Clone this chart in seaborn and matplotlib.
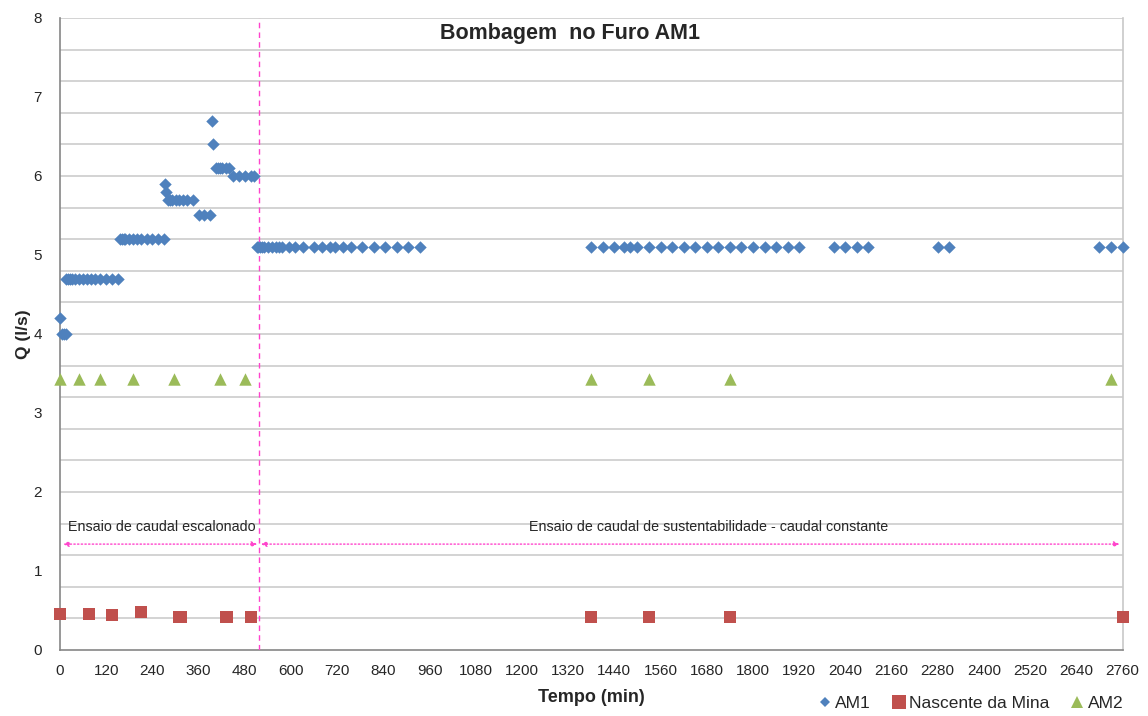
import pandas as pd
import matplotlib
matplotlib.use("Agg")
import matplotlib.pyplot as plt
from matplotlib.ticker import MultipleLocator
from matplotlib.lines import Line2D
import seaborn as sns

# AM1 pumping well flow (l/s) vs time (min)
am1_t = [0, 5, 10, 15,
         15, 20, 25, 30, 40, 50, 60, 70, 80, 90, 105, 120, 135, 150,
         155, 160, 165, 170, 180, 190, 200, 210, 225, 240, 255, 270,
         272, 275,
         280, 285, 290, 300, 310, 320, 330, 345,
         360, 375, 390,
         395, 398,
         405, 410, 415, 420, 430, 440,
         450, 465, 480, 495, 505,
         512, 515, 520, 525, 530, 540, 550, 560, 570, 577,
         595, 610, 630, 660, 680, 700, 715, 735,
         755, 785, 815, 845, 875, 905, 935,
         1380, 1410, 1440, 1465, 1480, 1500, 1530, 1560, 1590, 1620,
         1650, 1680, 1710, 1740, 1770, 1800, 1830, 1860, 1890, 1920,
         2010, 2040, 2070, 2100, 2280, 2310, 2700, 2730, 2760]
am1_q = [4.2, 4.0, 4.0, 4.0,
         4.7, 4.7, 4.7, 4.7, 4.7, 4.7, 4.7, 4.7, 4.7, 4.7, 4.7, 4.7, 4.7, 4.7,
         5.2, 5.2, 5.2, 5.2, 5.2, 5.2, 5.2, 5.2, 5.2, 5.2, 5.2, 5.2,
         5.9, 5.8,
         5.7, 5.7, 5.7, 5.7, 5.7, 5.7, 5.7, 5.7,
         5.5, 5.5, 5.5,
         6.7, 6.4,
         6.1, 6.1, 6.1, 6.1, 6.1, 6.1,
         6.0, 6.0, 6.0, 6.0, 6.0,
         5.1, 5.1, 5.1, 5.1, 5.1, 5.1, 5.1, 5.1, 5.1, 5.1,
         5.1, 5.1, 5.1, 5.1, 5.1, 5.1, 5.1, 5.1,
         5.1, 5.1, 5.1, 5.1, 5.1, 5.1, 5.1,
         5.1, 5.1, 5.1, 5.1, 5.1, 5.1, 5.1, 5.1, 5.1, 5.1,
         5.1, 5.1, 5.1, 5.1, 5.1, 5.1, 5.1, 5.1, 5.1, 5.1,
         5.1, 5.1, 5.1, 5.1, 5.1, 5.1, 5.1, 5.1, 5.1]

# Nascente da Mina
nasc_t = [0, 75, 135, 210, 310, 315, 430, 435, 495, 1380, 1530, 1740, 2760]
nasc_q = [0.46, 0.46, 0.44, 0.48, 0.42, 0.42, 0.42, 0.42, 0.42, 0.42, 0.42, 0.42, 0.42]

# AM2
am2_t = [0, 50, 105, 190, 295, 415, 480, 1380, 1530, 1740, 2730]
am2_q = [3.43] * 11

x_ticks = list(range(0, 2761, 120))
change_t = 517

c_am1 = "#4F81BD"
c_nasc = "#C0504D"
c_am2 = "#9BBB59"
c_pink = "#FF44CC"

sns.set_style("white")
plt.rcParams["font.family"] = ["Liberation Sans", "DejaVu Sans"]

fig = plt.figure(figsize=(11.48, 7.16), dpi=100)
ax = fig.add_axes([0.0523, 0.0922, 0.9255, 0.8828])

sns.scatterplot(x=am1_t, y=am1_q, marker="D", s=40, color=c_am1, linewidth=0, ax=ax,
                zorder=4, clip_on=False)
sns.scatterplot(x=nasc_t, y=nasc_q, marker="s", s=80, color=c_nasc, linewidth=0, ax=ax,
                zorder=4, clip_on=False)
sns.scatterplot(x=am2_t, y=am2_q, marker="^", s=80, color=c_am2, linewidth=0, ax=ax,
                zorder=4, clip_on=False)

ax.set_xlim(0, 2760)
ax.set_ylim(0, 8)
ax.set_xticks(x_ticks)
ax.yaxis.set_major_locator(MultipleLocator(1))
ax.grid(False)
# horizontal gridlines every 0.4
for k in range(1, 21):
    ax.axhline(k * 0.4, color="#D0D0D0", linewidth=1.3, zorder=1)
ax.tick_params(axis="both", which="major", direction="out", length=5, width=1,
               color="#868686", labelsize=11)
ax.tick_params(axis="y", pad=8)
ax.tick_params(axis="x", pad=5)
for side in ["left", "bottom", "right"]:
    ax.spines[side].set_color("#868686")
    ax.spines[side].set_linewidth(1.2)
ax.spines["right"].set_color("#C8C8C8")
ax.spines["top"].set_visible(False)

ax.axvline(change_t, color=c_pink, linestyle=(0, (4, 3)), linewidth=1, zorder=3)

ax.annotate("", xy=(8, 1.34), xytext=(change_t - 5, 1.34),
            arrowprops=dict(arrowstyle="<|-|>", color=c_pink, linestyle=":",
                            linewidth=1, mutation_scale=8, shrinkA=0, shrinkB=0))
ax.annotate("", xy=(change_t + 5, 1.34), xytext=(2752, 1.34),
            arrowprops=dict(arrowstyle="<|-|>", color=c_pink, linestyle=":",
                            linewidth=1, mutation_scale=8, shrinkA=0, shrinkB=0))
ax.text(265, 1.47, "Ensaio de caudal escalonado", ha="center", va="bottom", fontsize=10.3)
ax.text(1685, 1.47, "Ensaio de caudal de sustentabilidade - caudal constante", ha="center",
        va="bottom", fontsize=10.3)

ax.text(1325, 7.8, "Bombagem  no Furo AM1", ha="center", va="center", fontsize=15.5,
        fontweight="bold")

ax.set_xlabel("Tempo (min)", fontsize=13, fontweight="bold", labelpad=8)
ax.set_ylabel("Q (l/s)", fontsize=12.5, fontweight="bold", labelpad=2)

handles = [
    Line2D([], [], marker="D", linestyle="", color=c_am1, markersize=5.5, markeredgewidth=0),
    Line2D([], [], marker="s", linestyle="", color=c_nasc, markersize=9.5, markeredgewidth=0),
    Line2D([], [], marker="^", linestyle="", color=c_am2, markersize=8.5, markeredgewidth=0),
]
fig.legend(handles, ["AM1", "Nascente da Mina", "AM2"], loc="center right",
           bbox_to_anchor=(0.992, 0.018), ncol=3, frameon=False, fontsize=12.5,
           handletextpad=0.1, columnspacing=1.1, handlelength=1.0)

fig.savefig("out.png", dpi=100)
